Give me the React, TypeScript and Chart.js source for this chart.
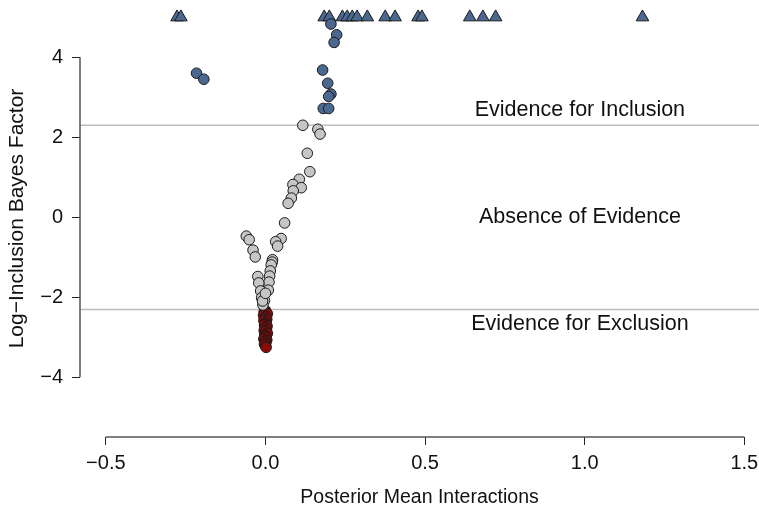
import React, { useEffect, useRef } from "react";
import { Chart, registerables } from "chart.js";

Chart.register(...registerables);

// ---- data ----
const grayX = [0.117, 0.164, 0.171, 0.131, 0.139, 0.106, 0.086, 0.112, 0.087, 0.081, 0.071, 0.060,
  -0.060, -0.051, -0.039, -0.032, 0.049, 0.032, 0.038, 0.022, 0.021, 0.018, 0.015, 0.013, 0.011, 0.009,
  -0.024, -0.021, -0.015, -0.012, -0.003, -0.008, -0.009, 0.000];
const grayY = [2.30, 2.20, 2.08, 1.60, 1.14, 0.95, 0.82, 0.74, 0.66, 0.48, 0.35, -0.14,
  -0.47, -0.56, -0.82, -0.99, -0.53, -0.61, -0.72, -1.06, -1.12, -1.19, -1.34, -1.47, -1.62, -1.82,
  -1.48, -1.64, -1.84, -2.01, -2.08, -2.19, -2.09, -1.90];

const redX = [0.000, -0.004, 0.003, 0.006, -0.006, 0.001, -0.002, 0.004, -0.005, 0.002, 0.000, -0.003,
  0.005, -0.001, 0.003, -0.004, 0.001, 0.006, -0.002, 0.000, 0.002, -0.005, 0.004, -0.001, 0.001, -0.003,
  0.000, 0.002];
const redY = [-2.33, -2.36, -2.38, -2.41, -2.45, -2.48, -2.52, -2.55, -2.58, -2.62, -2.66, -2.69,
  -2.72, -2.76, -2.80, -2.83, -2.86, -2.90, -2.94, -2.97, -3.00, -3.04, -3.07, -3.10, -3.14, -3.17,
  -3.21, -3.25];

const blueX = [0.205, 0.223, 0.215, -0.216, -0.193, 0.179, 0.195, 0.205, 0.198, 0.181, 0.198];
const blueY = [4.83, 4.56, 4.37, 3.60, 3.45, 3.68, 3.35, 3.08, 3.02, 2.72, 2.72];

const triX = [-0.277, -0.265, 0.184, 0.200, 0.241, 0.256, 0.272, 0.287, 0.319, 0.375, 0.406, 0.478,
  0.490, 0.640, 0.681, 0.721, 1.181];
const triY = triX.map(() => 5.0);

const xTicks = [-0.5, 0, 0.5, 1, 1.5];
const yTicks = [-4, -2, 0, 2, 4];
const refLines = [Math.log(10), -Math.log(10)];
const zoneLabels = ["Evidence for Inclusion", "Absence of Evidence", "Evidence for Exclusion"];
const zoneLabelY = [2.68, 0, -2.66];
const zoneLabelX = 0.985;

const FONT = "'Liberation Sans', Arial, Helvetica, sans-serif";

function minusFmt(s: string): string {
  return s.replace("-", "\u2212");
}

function pts(xs: number[], ys: number[]) {
  return xs.map((x, i) => ({ x, y: ys[i] }));
}

const overlay = {
  id: "overlay",
  beforeDatasetsDraw(chart: any) {
    const { ctx, chartArea, scales } = chart;
    const x = scales.x;
    const y = scales.y;
    ctx.save();
    ctx.strokeStyle = "#bdbdbd";
    ctx.lineWidth = 1.5;
    refLines.forEach((v) => {
      const py = y.getPixelForValue(v);
      ctx.beginPath();
      ctx.moveTo(chartArea.left, py);
      ctx.lineTo(chartArea.right, py);
      ctx.stroke();
    });
    ctx.strokeStyle = "#555";
    ctx.lineWidth = 1.5;
    const ya = y.getPixelForValue(yTicks[0]);
    const yb = y.getPixelForValue(yTicks[yTicks.length - 1]);
    ctx.beginPath();
    ctx.moveTo(chartArea.left, ya);
    ctx.lineTo(chartArea.left, yb);
    ctx.stroke();
    const xa = x.getPixelForValue(xTicks[0]);
    const xb = x.getPixelForValue(xTicks[xTicks.length - 1]);
    ctx.beginPath();
    ctx.moveTo(xa, chartArea.bottom);
    ctx.lineTo(xb, chartArea.bottom);
    ctx.stroke();

    ctx.fillStyle = "#111";
    ctx.font = `21.5px ${FONT}`;
    ctx.textAlign = "center";
    ctx.textBaseline = "middle";
    zoneLabels.forEach((t, i) => {
      ctx.fillText(t, x.getPixelForValue(zoneLabelX), y.getPixelForValue(zoneLabelY[i]));
    });
    ctx.restore();
  },
};

export default function App() {
  const ref = useRef<HTMLCanvasElement | null>(null);
  useEffect(() => {
    if (!ref.current) return;
    const common = { borderColor: "#1a1a1a", borderWidth: 1, showLine: false, clip: false };
    const chart = new Chart(ref.current, {
      type: "scatter",
      data: {
        datasets: [
          { ...common, label: "absence", data: pts(grayX, grayY), backgroundColor: "#c6c6c6", pointRadius: 5.3, pointStyle: "circle" },
          { ...common, label: "exclusion", data: pts(redX, redY), backgroundColor: "#8b0a0a", pointRadius: 5.3, pointStyle: "circle" },
          { ...common, label: "inclusion", data: pts(blueX, blueY), backgroundColor: "#4a6890", pointRadius: 5.3, pointStyle: "circle" },
          { ...common, label: "inclusion (inf)", data: pts(triX, triY), backgroundColor: "#4a6890", pointRadius: 7.3, pointStyle: "triangle" },
        ],
      },
      options: {
        responsive: false,
        animation: false,
        devicePixelRatio: 1,
        layout: { padding: 0, autoPadding: false },
        plugins: { legend: { display: false }, tooltip: { enabled: false } },
        scales: {
          x: {
            type: "linear",
            min: -0.581,
            max: 1.546,
            afterBuildTicks: (s: any) => { s.ticks = xTicks.map((v) => ({ value: v })); },
            afterFit: (s: any) => { s.height = 73; s.paddingLeft = 0; s.paddingRight = 0; },
            grid: { drawOnChartArea: false, drawTicks: true, tickLength: 8, color: "#222", lineWidth: 1 },
            border: { display: false },
            ticks: {
              autoSkip: false, maxRotation: 0, padding: 6, color: "#111",
              font: { size: 20, family: FONT },
              callback: (v: any) => minusFmt(Number(v).toFixed(1)),
            },
            title: { display: true, text: "Posterior Mean Interactions", color: "#111", font: { size: 19.5, family: FONT }, padding: { top: 4, bottom: 1 } },
          },
          y: {
            type: "linear",
            min: -5.49,
            max: 5.43,
            afterBuildTicks: (s: any) => { s.ticks = yTicks.map((v) => ({ value: v })); },
            afterFit: (s: any) => { s.width = 80; s.paddingTop = 0; s.paddingBottom = 0; },
            grid: { drawOnChartArea: false, drawTicks: true, tickLength: 8, color: "#222", lineWidth: 1 },
            border: { display: false },
            ticks: {
              autoSkip: false, padding: 9, color: "#111",
              font: { size: 20, family: FONT },
              callback: (v: any) => minusFmt(String(v)),
            },
            title: { display: true, text: "Log\u2212Inclusion Bayes Factor", color: "#111", font: { size: 21, family: FONT }, padding: { top: 5, bottom: 0 } },
          },
        },
      },
      plugins: [overlay],
    });
    return () => chart.destroy();
  }, []);
  return (
    <div style={{ position: "fixed", left: 0, top: 0, width: 759, height: 510, background: "#fff" }}>
      <canvas ref={ref} width={759} height={510} />
    </div>
  );
}
